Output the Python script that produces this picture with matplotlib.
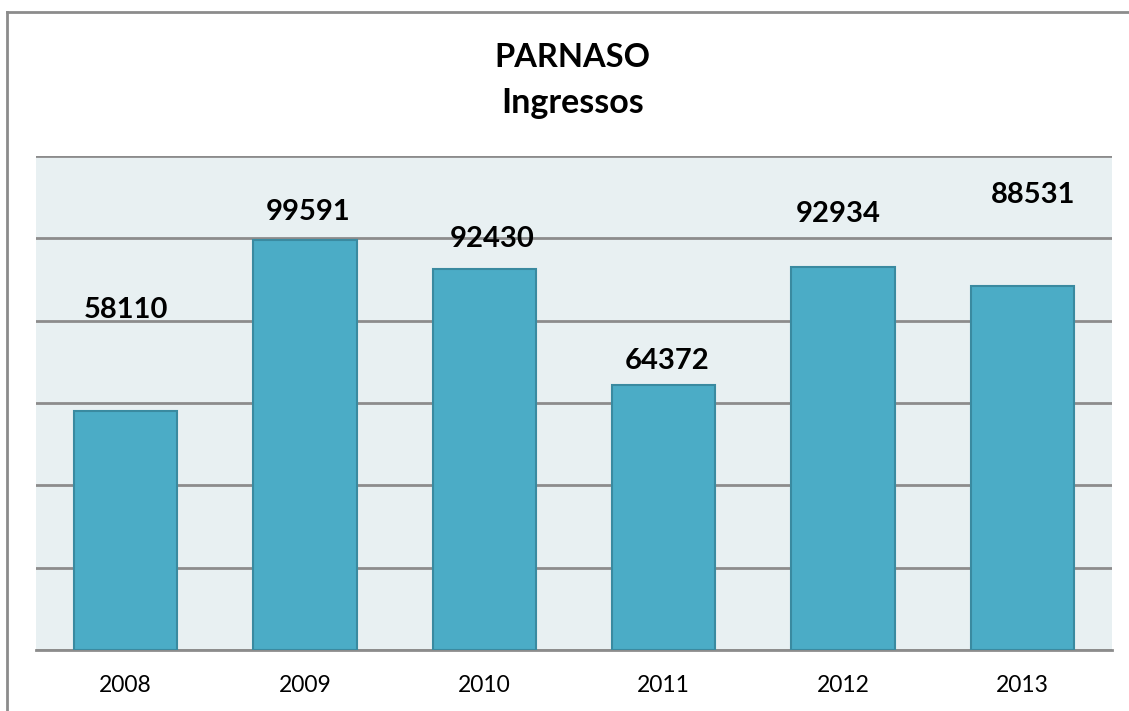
import matplotlib
matplotlib.use("Agg")
import matplotlib.pyplot as plt
from matplotlib.lines import Line2D

years = ["2008", "2009", "2010", "2011", "2012", "2013"]
ingressos = [58110, 99591, 92430, 64372, 92934, 88531]
title_lines = ["PARNASO", "Ingressos"]

# label placement offsets (as in the original chart, labels float above bars)
label_dy = [22540, 4859, 5460, 3768, 10916, 20039]
label_dx = [0.0, 0.02, 0.043, 0.018, -0.025, 0.06]

plt.rcParams['font.family'] = ['Lato', 'DejaVu Sans']

W, H = 1129, 711
fig = plt.figure(figsize=(W / 100, H / 100), dpi=100)
fig.patch.set_facecolor("white")

ax = fig.add_axes([36 / W, 1 - 650 / H, (1112 - 36) / W, (650 - 156) / H])
ax.set_facecolor("#E8F0F2")

x = list(range(len(years)))
ax.bar(x, ingressos, width=0.575, color="#4BACC6", edgecolor="#3A8AA0",
       linewidth=1.5, zorder=3)

ax.set_xlim(-0.5, len(years) - 0.5)
ax.set_ylim(0, 120000)
ax.set_yticks(range(0, 120001, 20000))
ax.yaxis.grid(True, color="#8C8C8C", linewidth=2)
ax.set_axisbelow(True)
ax.tick_params(axis="y", left=False, labelleft=False)
ax.set_xticks(x)
ax.set_xticklabels(years, fontsize=16.5)
ax.tick_params(axis="x", length=0, pad=18)
for s in ["left", "right", "top"]:
    ax.spines[s].set_visible(False)
ax.spines["bottom"].set_color("#8C8C8C")
ax.spines["bottom"].set_linewidth(2)

for xi, v, dx, dy in zip(x, ingressos, label_dx, label_dy):
    ax.text(xi + dx, v + dy, str(v), ha="center", va="baseline",
            fontsize=21, fontweight="bold", color="black", zorder=4)

fig.text(572.5 / W, 1 - 66.7 / H, title_lines[0], ha="center", va="baseline",
         fontsize=23.5, fontweight="bold")
fig.text(572.5 / W, 1 - 112.7 / H, title_lines[1], ha="center", va="baseline",
         fontsize=24.5, fontweight="bold")

# outer frame (left and top edges visible)
fig.add_artist(Line2D([7 / W, 7 / W], [0, 1 - 12 / H], transform=fig.transFigure,
                      color="#8C8C8C", linewidth=2))
fig.add_artist(Line2D([7 / W, 1], [1 - 12 / H, 1 - 12 / H], transform=fig.transFigure,
                      color="#8C8C8C", linewidth=2))

fig.savefig("out.png", dpi=100)
